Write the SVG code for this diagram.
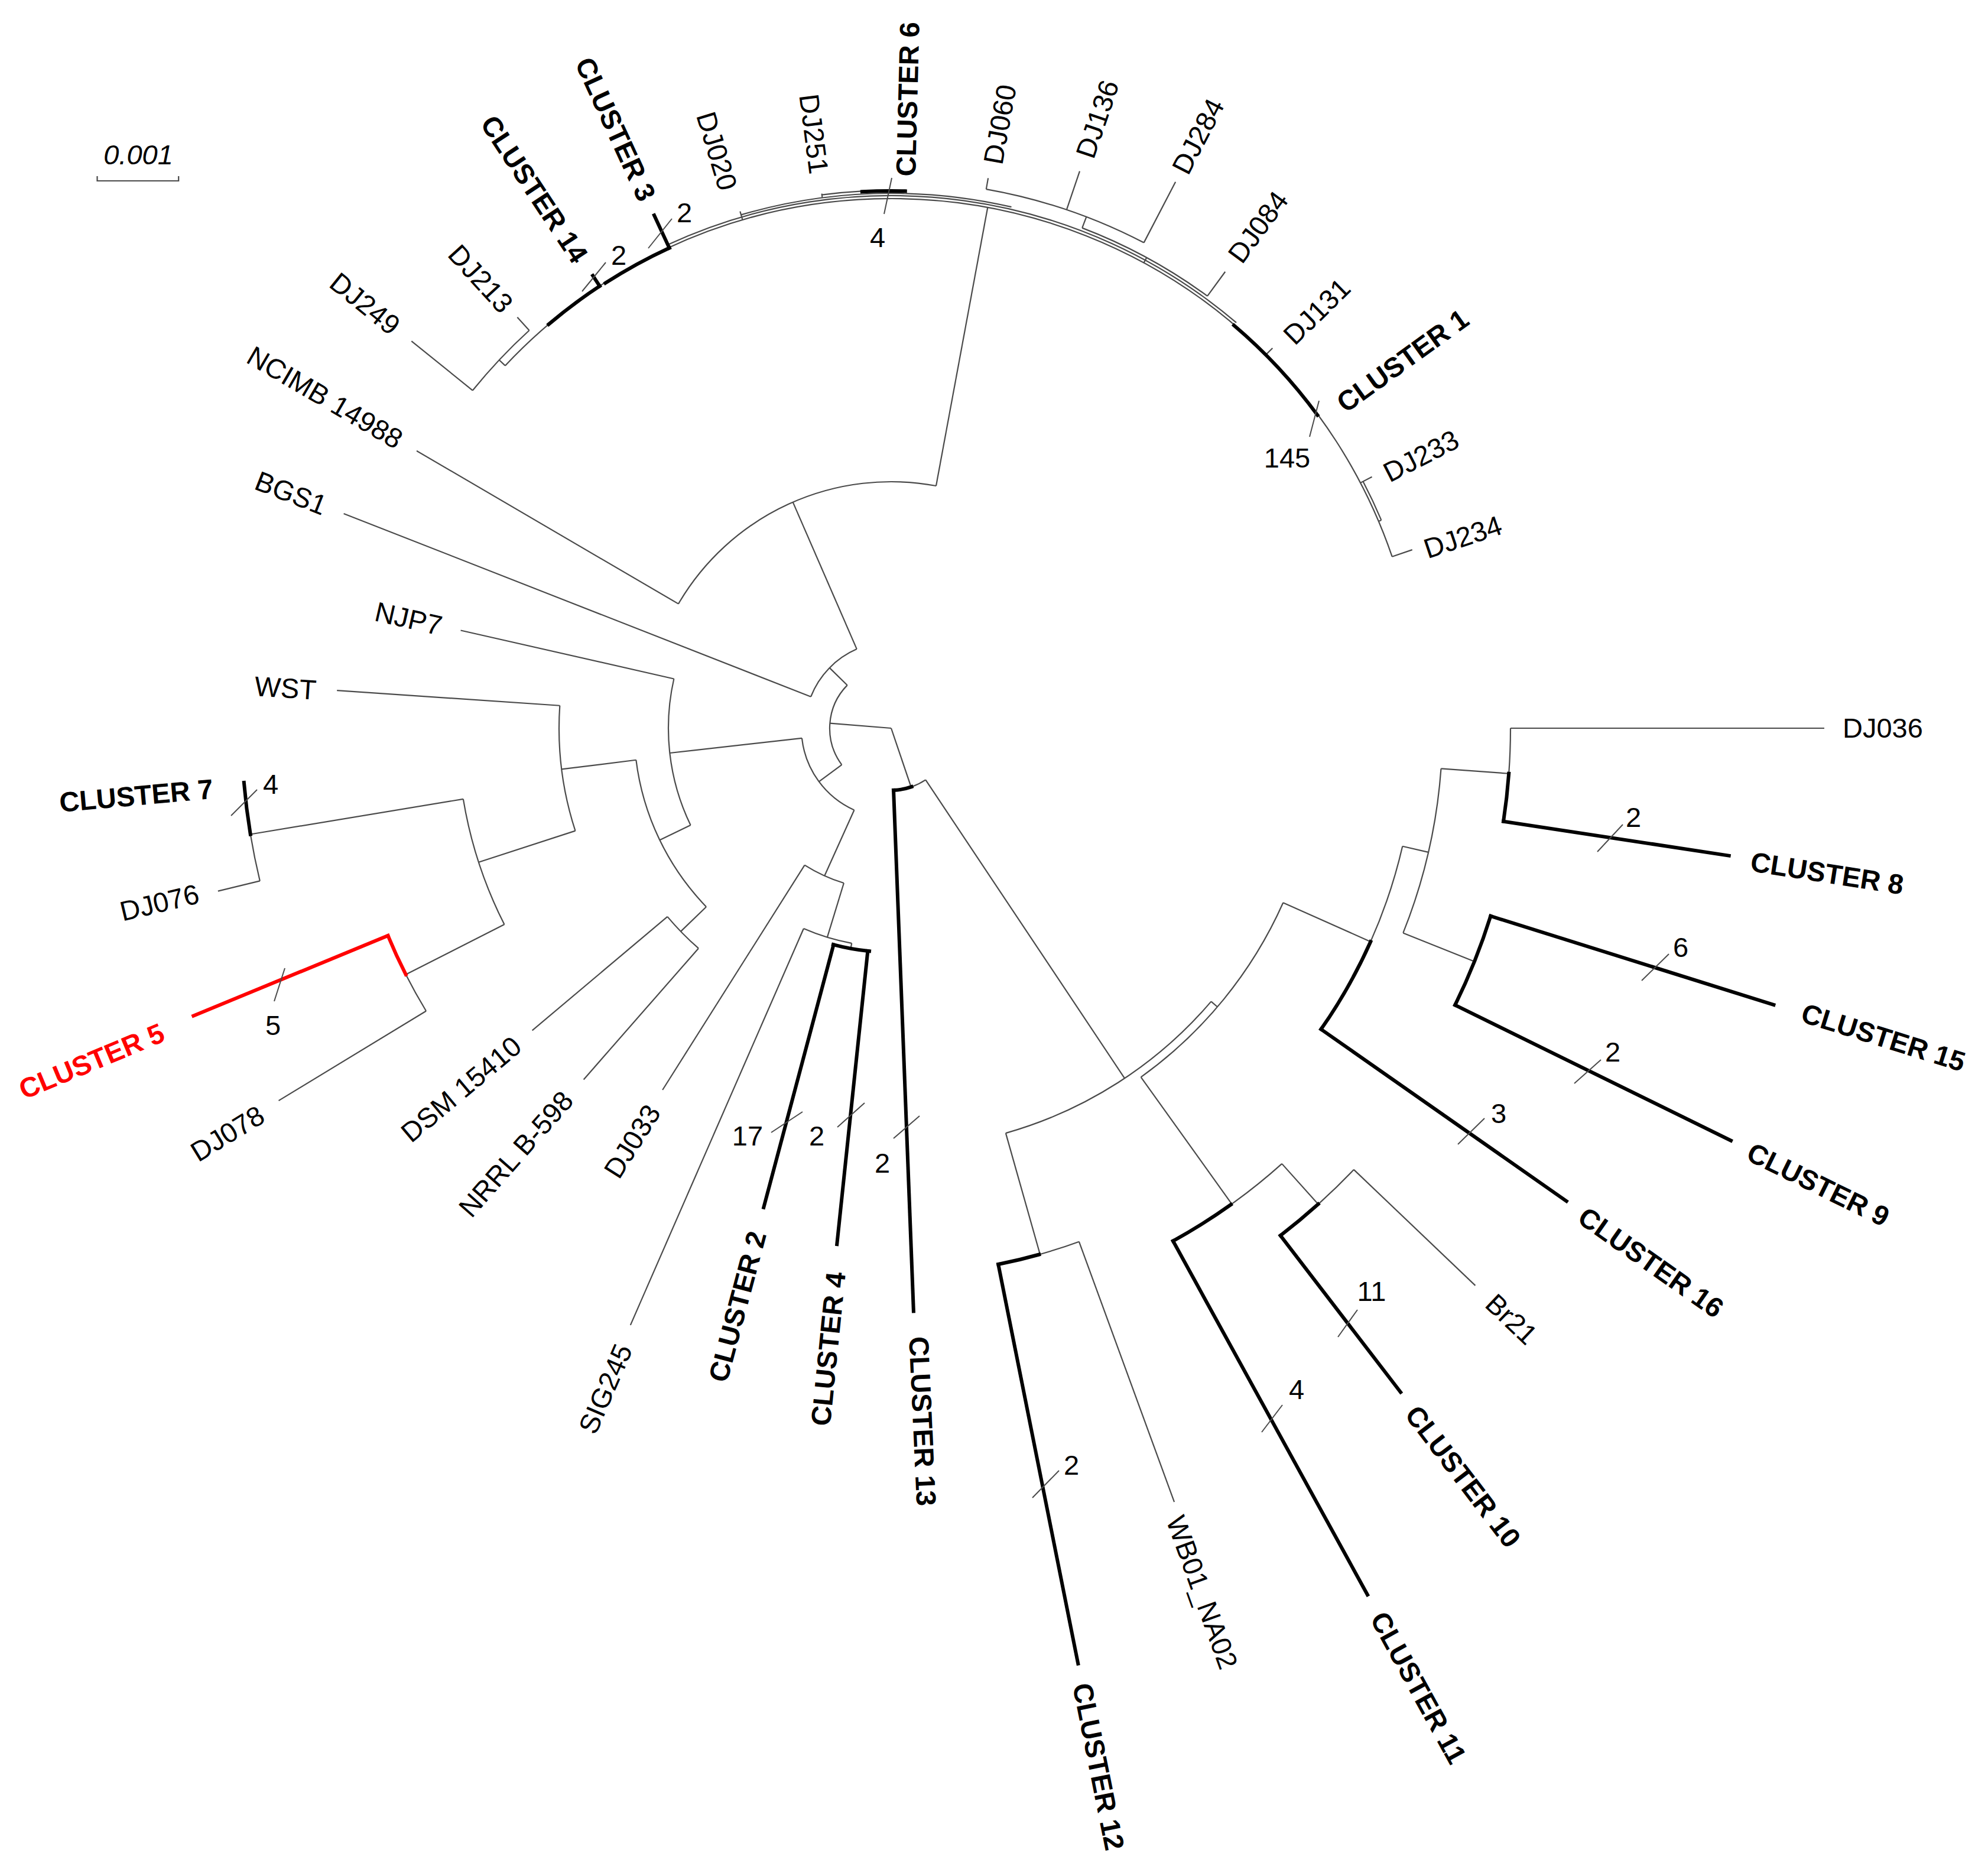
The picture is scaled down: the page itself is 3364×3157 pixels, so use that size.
<svg xmlns="http://www.w3.org/2000/svg" width="3364" height="3157" viewBox="0 0 3364 3157">
<style>
.t{fill:none;stroke:#4a4a4a;stroke-width:2.2}
.k{fill:none;stroke:#000;stroke-width:6;stroke-linecap:square}
.r{fill:none;stroke:#f00;stroke-width:6;stroke-linecap:square}
.h{stroke:#4a4a4a;stroke-width:2}
text{font-family:"Liberation Sans",Arial,sans-serif;font-size:47px;fill:#000}
.b{font-weight:bold}
.red{fill:#f00}
.e{text-anchor:end}
.m{text-anchor:middle}
</style>
<rect width="3364" height="3157" fill="#fff"/>
<g id="scale-bar">
<path class="t" d="M164.5,298 V306 H302.2 V298"/>
<text x="234" y="278" class="m" font-style="italic">0.001</text>
</g>
<g id="connectors" transform="translate(1508,1232)">
<!-- radial thin -->
<line class="t" x1="0" x2="104" transform="rotate(184.6)"/>
<line class="t" x1="0" x2="105" transform="rotate(71.3)"/>
<line class="t" x1="104" x2="146" transform="rotate(224.4)"/>
<line class="t" x1="104" x2="152" transform="rotate(143.5)"/>
<line class="t" x1="146" x2="995" transform="rotate(201.4)"/>
<line class="t" x1="146" x2="417" transform="rotate(246.5)"/>
<line class="t" x1="417" x2="930" transform="rotate(210.3)"/>
<line class="t" x1="417" x2="896" transform="rotate(280.5)"/>
<line class="t" x1="152" x2="377" transform="rotate(173.6)"/>
<line class="t" x1="152" x2="274" transform="rotate(114.3)"/>
<line class="t" x1="377" x2="747" transform="rotate(192.8)"/>
<line class="t" x1="377" x2="435" transform="rotate(154.2)"/>
<line class="t" x1="435" x2="562" transform="rotate(172.9)"/>
<line class="t" x1="435" x2="495" transform="rotate(136)"/>
<line class="t" x1="562" x2="940" transform="rotate(183.9)"/>
<line class="t" x1="562" x2="734" transform="rotate(162)"/>
<line class="t" x1="734" x2="1099" transform="rotate(170.6)"/>
<line class="t" x1="734" x2="921" transform="rotate(153.1)"/>
<line class="t" x1="1099" x2="1172" transform="rotate(166.4)"/>
<line class="t" x1="921" x2="1213" transform="rotate(148.7)"/>
<line class="t" x1="495" x2="794" transform="rotate(139.9)"/>
<line class="t" x1="495" x2="790" transform="rotate(131.2)"/>
<line class="t" x1="274" x2="724" transform="rotate(122.3)"/>
<line class="t" x1="274" x2="370" transform="rotate(107)"/>
<line class="t" x1="370" x2="1102" transform="rotate(113.6)"/>
<line class="t" x1="370" x2="379" transform="rotate(100.4)"/>
<line class="t" x1="105" x2="712" transform="rotate(56.3)"/>
<line class="t" x1="712" x2="925" transform="rotate(74.2)"/>
<line class="t" x1="712" x2="726" transform="rotate(40.5)"/>
<line class="t" x1="726" x2="990" transform="rotate(54.4)"/>
<line class="t" x1="726" x2="888" transform="rotate(24)"/>
<line class="t" x1="925" x2="1394" transform="rotate(69.9)"/>
<line class="t" x1="990" x2="1082" transform="rotate(48.1)"/>
<line class="t" x1="1082" x2="1366" transform="rotate(43.65)"/>
<line class="t" x1="888" x2="933" transform="rotate(13)"/>
<line class="t" x1="933" x2="1048" transform="rotate(4.2)"/>
<line class="t" x1="933" x2="1063" transform="rotate(21.8)"/>
<line class="t" x1="1048" x2="1579" transform="rotate(0)"/>
<line class="t" x1="896" x2="910" transform="rotate(223.2)"/>
<line class="t" x1="910" x2="1043" transform="rotate(218.9)"/>
<line class="t" x1="910" x2="940" transform="rotate(227.7)"/>
<line class="t" x1="896" x2="911" transform="rotate(253.7)"/>
<line class="t" x1="905" x2="912" transform="rotate(262.6)"/>
<line class="t" x1="926" x2="945" transform="rotate(280)"/>
<line class="t" x1="926" x2="995" transform="rotate(288.7)"/>
<line class="t" x1="926" x2="1042" transform="rotate(297.5)"/>
<line class="t" x1="906" x2="926" transform="rotate(290.9)"/>
<line class="t" x1="906" x2="957" transform="rotate(306.2)"/>
<line class="t" x1="896" x2="906" transform="rotate(298.5)"/>
<line class="t" x1="896" x2="911" transform="rotate(315.1)"/>
<line class="t" x1="896" x2="918" transform="rotate(332.4)"/>
<line class="t" x1="896" x2="932" transform="rotate(341.1)"/>
<line class="t" x1="896" x2="901" transform="rotate(337)"/>
<!-- arcs thin -->
<circle class="t" r="104" stroke-dasharray="146.8 9999" transform="rotate(143.5)"/>
<circle class="t" r="146" stroke-dasharray="114.9 9999" transform="rotate(201.4)"/>
<circle class="t" r="417" stroke-dasharray="510.9 9999" transform="rotate(210.3)"/>
<circle class="t" r="152" stroke-dasharray="157.3 9999" transform="rotate(114.3)"/>
<circle class="t" r="377" stroke-dasharray="254 9999" transform="rotate(154.2)"/>
<circle class="t" r="435" stroke-dasharray="280.2 9999" transform="rotate(136)"/>
<circle class="t" r="562" stroke-dasharray="214.8 9999" transform="rotate(162)"/>
<circle class="t" r="734" stroke-dasharray="224.2 9999" transform="rotate(153.1)"/>
<circle class="t" r="1099" stroke-dasharray="80.6 9999" transform="rotate(166.4)"/>
<circle class="t" r="921" stroke-dasharray="70.7 9999" transform="rotate(148.7)"/>
<circle class="t" r="495" stroke-dasharray="75.2 9999" transform="rotate(131.2)"/>
<circle class="t" r="274" stroke-dasharray="73.2 9999" transform="rotate(107)"/>
<circle class="t" r="370" stroke-dasharray="85.2 9999" transform="rotate(100.4)"/>
<circle class="t" r="105" stroke-dasharray="26.6 9999" transform="rotate(56.3)"/>
<circle class="t" r="712" stroke-dasharray="418.8 9999" transform="rotate(40.5)"/>
<circle class="t" r="726" stroke-dasharray="385.2 9999" transform="rotate(24)"/>
<circle class="t" r="925" stroke-dasharray="71 9999" transform="rotate(69.9)"/>
<circle class="t" r="990" stroke-dasharray="110.6 9999" transform="rotate(48.1)"/>
<circle class="t" r="1082" stroke-dasharray="84 9999" transform="rotate(43.65)"/>
<circle class="t" r="888" stroke-dasharray="170.5 9999" transform="rotate(13)"/>
<circle class="t" r="933" stroke-dasharray="286.6 9999" transform="rotate(4.2)"/>
<circle class="t" r="1048" stroke-dasharray="76.8 9999" transform="rotate(0)"/>
<circle class="t" r="896" stroke-dasharray="1843.7 9999" transform="rotate(223.2)"/>
<circle class="t" r="910" stroke-dasharray="139.8 9999" transform="rotate(218.9)"/>
<circle class="t" r="901" stroke-dasharray="1025.3 9999" transform="rotate(245.2)"/>
<circle class="t" r="905" stroke-dasharray="281.2 9999" transform="rotate(253.7)"/>
<circle class="t" r="910" stroke-dasharray="68.3 9999" transform="rotate(262.6)"/>
<circle class="t" r="905" stroke-dasharray="181.6 9999" transform="rotate(271.5)"/>
<circle class="t" r="926" stroke-dasharray="282.8 9999" transform="rotate(280)"/>
<circle class="t" r="906" stroke-dasharray="241.9 9999" transform="rotate(290.9)"/>
<circle class="t" r="901" stroke-dasharray="72.3 9999" transform="rotate(332.4)"/>
<!-- thick arcs -->
<circle class="k" r="1099" stroke-dasharray="88.2 9999" transform="rotate(170.6)"/>
<circle class="k" r="379" stroke-dasharray="62.2 9999" transform="rotate(95.6)"/>
<circle class="k" r="105" stroke-dasharray="31.2 9999" transform="rotate(70.8)"/>
<circle class="k" r="925" stroke-dasharray="71 9999" transform="rotate(74.3)"/>
<circle class="k" r="990" stroke-dasharray="115.8 9999" transform="rotate(54.5)"/>
<circle class="k" r="1082" stroke-dasharray="83.1 9999" transform="rotate(48.1)"/>
<circle class="k" r="888" stroke-dasharray="170.5 9999" transform="rotate(24)"/>
<circle class="k" r="1048" stroke-dasharray="81.4 9999" transform="rotate(4.2)"/>
<circle class="k" r="1063" stroke-dasharray="162.3 9999" transform="rotate(17.4)"/>
<circle class="k" r="896" stroke-dasharray="107.9 9999" transform="rotate(229.7)"/>
<circle class="k" r="895" stroke-dasharray="123.4 9999" transform="rotate(237.3)"/>
<circle class="k" r="909" stroke-dasharray="73 9999" transform="rotate(266.9)"/>
<circle class="k" r="895" stroke-dasharray="207.8 9999" transform="rotate(310.4)"/>
<circle class="r" r="921" stroke-dasharray="72.3 9999" transform="rotate(153.1)"/>
<!-- thick radials -->
<line class="k" x1="379" x2="839" transform="rotate(104.9)"/>
<line class="k" x1="379" x2="878" transform="rotate(96)"/>
<line class="k" x1="105" x2="987" transform="rotate(87.8)"/>
<line class="k" x1="925" x2="1614" transform="rotate(78.7)"/>
<line class="k" x1="990" x2="1673" transform="rotate(61.2)"/>
<line class="k" x1="1082" x2="1416" transform="rotate(52.5)"/>
<line class="k" x1="888" x2="1395" transform="rotate(35)"/>
<line class="k" x1="1063" x2="1583" transform="rotate(26.15)"/>
<line class="k" x1="1063" x2="1565" transform="rotate(17.4)"/>
<line class="k" x1="1048" x2="1434" transform="rotate(8.65)"/>
<line class="k" x1="896" x2="917" transform="rotate(236.6)"/>
<line class="k" x1="895" x2="956" transform="rotate(245.2)"/>
<line class="r" x1="921" x2="1277" transform="rotate(157.6)"/>
</g>
<g id="marks">
<line class="h" x1="985" y1="493" x2="1025" y2="444"/>
<line class="h" x1="1097" y1="420" x2="1137" y2="370"/>
<line class="h" x1="1496" y1="362" x2="1509" y2="301"/>
<line class="h" x1="2232" y1="678" x2="2216" y2="739"/>
<line class="h" x1="391" y1="1380" x2="435" y2="1336"/>
<line class="h" x1="464" y1="1694" x2="482" y2="1638"/>
<line class="h" x1="1305" y1="1916" x2="1358" y2="1881"/>
<line class="h" x1="1417" y1="1907" x2="1463" y2="1866"/>
<line class="h" x1="1512" y1="1926" x2="1556" y2="1888"/>
<line class="h" x1="1747" y1="2534" x2="1792" y2="2488"/>
<line class="h" x1="2135" y1="2423" x2="2170" y2="2377"/>
<line class="h" x1="2264" y1="2262" x2="2297" y2="2216"/>
<line class="h" x1="2467" y1="1936" x2="2512" y2="1892"/>
<line class="h" x1="2664" y1="1833" x2="2709" y2="1793"/>
<line class="h" x1="2778" y1="1659" x2="2824" y2="1614"/>
<line class="h" x1="2703" y1="1441" x2="2746" y2="1395"/>
<text class="m" x="1047" y="432" dy="0.35em">2</text>
<text class="m" x="1158" y="360" dy="0.35em">2</text>
<text class="m" x="1485" y="402" dy="0.35em">4</text>
<text class="m" x="2178" y="775" dy="0.35em">145</text>
<text class="m" x="458" y="1327" dy="0.35em">4</text>
<text class="m" x="462" y="1735" dy="0.35em">5</text>
<text class="m" x="1265" y="1922" dy="0.35em">17</text>
<text class="m" x="1382" y="1922" dy="0.35em">2</text>
<text class="m" x="1493" y="1968" dy="0.35em">2</text>
<text class="m" x="1813" y="2479" dy="0.35em">2</text>
<text class="m" x="2194" y="2351" dy="0.35em">4</text>
<text class="m" x="2321" y="2185" dy="0.35em">11</text>
<text class="m" x="2536" y="1884" dy="0.35em">3</text>
<text class="m" x="2729" y="1780" dy="0.35em">2</text>
<text class="m" x="2844" y="1603" dy="0.35em">6</text>
<text class="m" x="2764" y="1383" dy="0.35em">2</text>
</g>
<g id="labels" transform="translate(1508,1232)">
<g id="n-bgs1"><text class="e" dy="0.35em" transform="rotate(21.4) translate(-1028,0)">BGS1</text></g>
<g id="n-ncimb"><text class="e" dy="0.35em" transform="rotate(30.3) translate(-962,0)">NCIMB 14988</text></g>
<g id="n-njp7"><text class="e" dy="0.35em" transform="rotate(12.8) translate(-780,0)">NJP7</text></g>
<g id="n-wst"><text class="e" dy="0.35em" transform="rotate(3.8) translate(-975,0)">WST</text></g>
<g id="n-c7"><text class="e b" dy="0.35em" transform="rotate(-5.1) translate(-1152,0)">CLUSTER 7</text></g>
<g id="n-dj076"><text class="e" dy="0.35em" transform="rotate(-13.4) translate(-1205,0)">DJ076</text></g>
<g id="n-c5"><text class="e b red" dy="0.35em" transform="rotate(-22.6) translate(-1335,0)">CLUSTER 5</text></g>
<g id="n-dj078"><text class="e" dy="0.35em" transform="rotate(-31.4) translate(-1248,0)">DJ078</text></g>
<g id="n-dsm"><text class="e" dy="0.35em" transform="rotate(-40) translate(-826,0)">DSM 15410</text></g>
<g id="n-nrrl"><text class="e" dy="0.35em" transform="rotate(-48.6) translate(-828,0)">NRRL B-598</text></g>
<g id="n-dj033"><text class="e" dy="0.35em" transform="rotate(-57.9) translate(-757,0)">DJ033</text></g>
<g id="n-sig245"><text class="e" dy="0.35em" transform="rotate(-66.6) translate(-1138,0)">SIG245</text></g>
<g id="n-c2"><text class="e b" dy="0.35em" transform="rotate(-75.1) translate(-882,0)">CLUSTER 2</text></g>
<g id="n-c4"><text class="e b" dy="0.35em" transform="rotate(-84.2) translate(-925,0)">CLUSTER 4</text></g>
<g id="n-dj249"><text class="e" dy="0.35em" transform="rotate(38.9) translate(-1076,0)">DJ249</text></g>
<g id="n-dj213"><text class="e" dy="0.35em" transform="rotate(47.6) translate(-962,0)">DJ213</text></g>
<g id="n-c14"><text class="e b" dy="0.35em" transform="rotate(56.5) translate(-950,0)">CLUSTER 14</text></g>
<g id="n-c3"><text class="e b" dy="0.35em" transform="rotate(65.3) translate(-985,0)">CLUSTER 3</text></g>
<g id="n-dj020"><text class="e" dy="0.35em" transform="rotate(73.2) translate(-952,0)">DJ020</text></g>
<g id="n-dj251"><text class="e" dy="0.35em" transform="rotate(82.6) translate(-946,0)">DJ251</text></g>
<g id="n-c6"><text class="b" dy="0.35em" transform="rotate(-88.5) translate(934,0)">CLUSTER 6</text></g>
<g id="n-dj060"><text dy="0.35em" transform="rotate(-79.8) translate(970,0)">DJ060</text></g>
<g id="n-dj136"><text dy="0.35em" transform="rotate(-71.3) translate(1020,0)">DJ136</text></g>
<g id="n-dj284"><text dy="0.35em" transform="rotate(-62.6) translate(1060,0)">DJ284</text></g>
<g id="n-dj084"><text dy="0.35em" transform="rotate(-53.8) translate(983,0)">DJ084</text></g>
<g id="n-dj131"><text dy="0.35em" transform="rotate(-44.4) translate(940,0)">DJ131</text></g>
<g id="n-c1"><text class="b" dy="0.35em" transform="rotate(-35.7) translate(935,0)">CLUSTER 1</text></g>
<g id="n-dj233"><text dy="0.35em" transform="rotate(-27.2) translate(940,0)">DJ233</text></g>
<g id="n-dj234"><text dy="0.35em" transform="rotate(-18.5) translate(952,0)">DJ234</text></g>
<g id="n-dj036"><text dy="0.35em" transform="rotate(0) translate(1610,0)">DJ036</text></g>
<g id="n-c8"><text class="b" dy="0.35em" transform="rotate(8.8) translate(1472,0)">CLUSTER 8</text></g>
<g id="n-c15"><text class="b" dy="0.35em" transform="rotate(17.3) translate(1615,0)">CLUSTER 15</text></g>
<g id="n-c9"><text class="b" dy="0.35em" transform="rotate(26.2) translate(1618,0)">CLUSTER 9</text></g>
<g id="n-c16"><text class="b" dy="0.35em" transform="rotate(35.1) translate(1428,0)">CLUSTER 16</text></g>
<g id="n-br21"><text dy="0.35em" transform="rotate(43.6) translate(1400,0)">Br21</text></g>
<g id="n-c10"><text class="b" dy="0.35em" transform="rotate(52.6) translate(1450,0)">CLUSTER 10</text></g>
<g id="n-c11"><text class="b" dy="0.35em" transform="rotate(61.2) translate(1710,0)">CLUSTER 11</text></g>
<g id="n-wb01"><text dy="0.35em" transform="rotate(70.2) translate(1418,0)">WB01_NA02</text></g>
<g id="n-c12"><text class="b" dy="0.35em" transform="rotate(78.7) translate(1648,0)">CLUSTER 12</text></g>
<g id="n-c13"><text class="b" dy="0.35em" transform="rotate(87.4) translate(1030,0)">CLUSTER 13</text></g>
</g>
</svg>
